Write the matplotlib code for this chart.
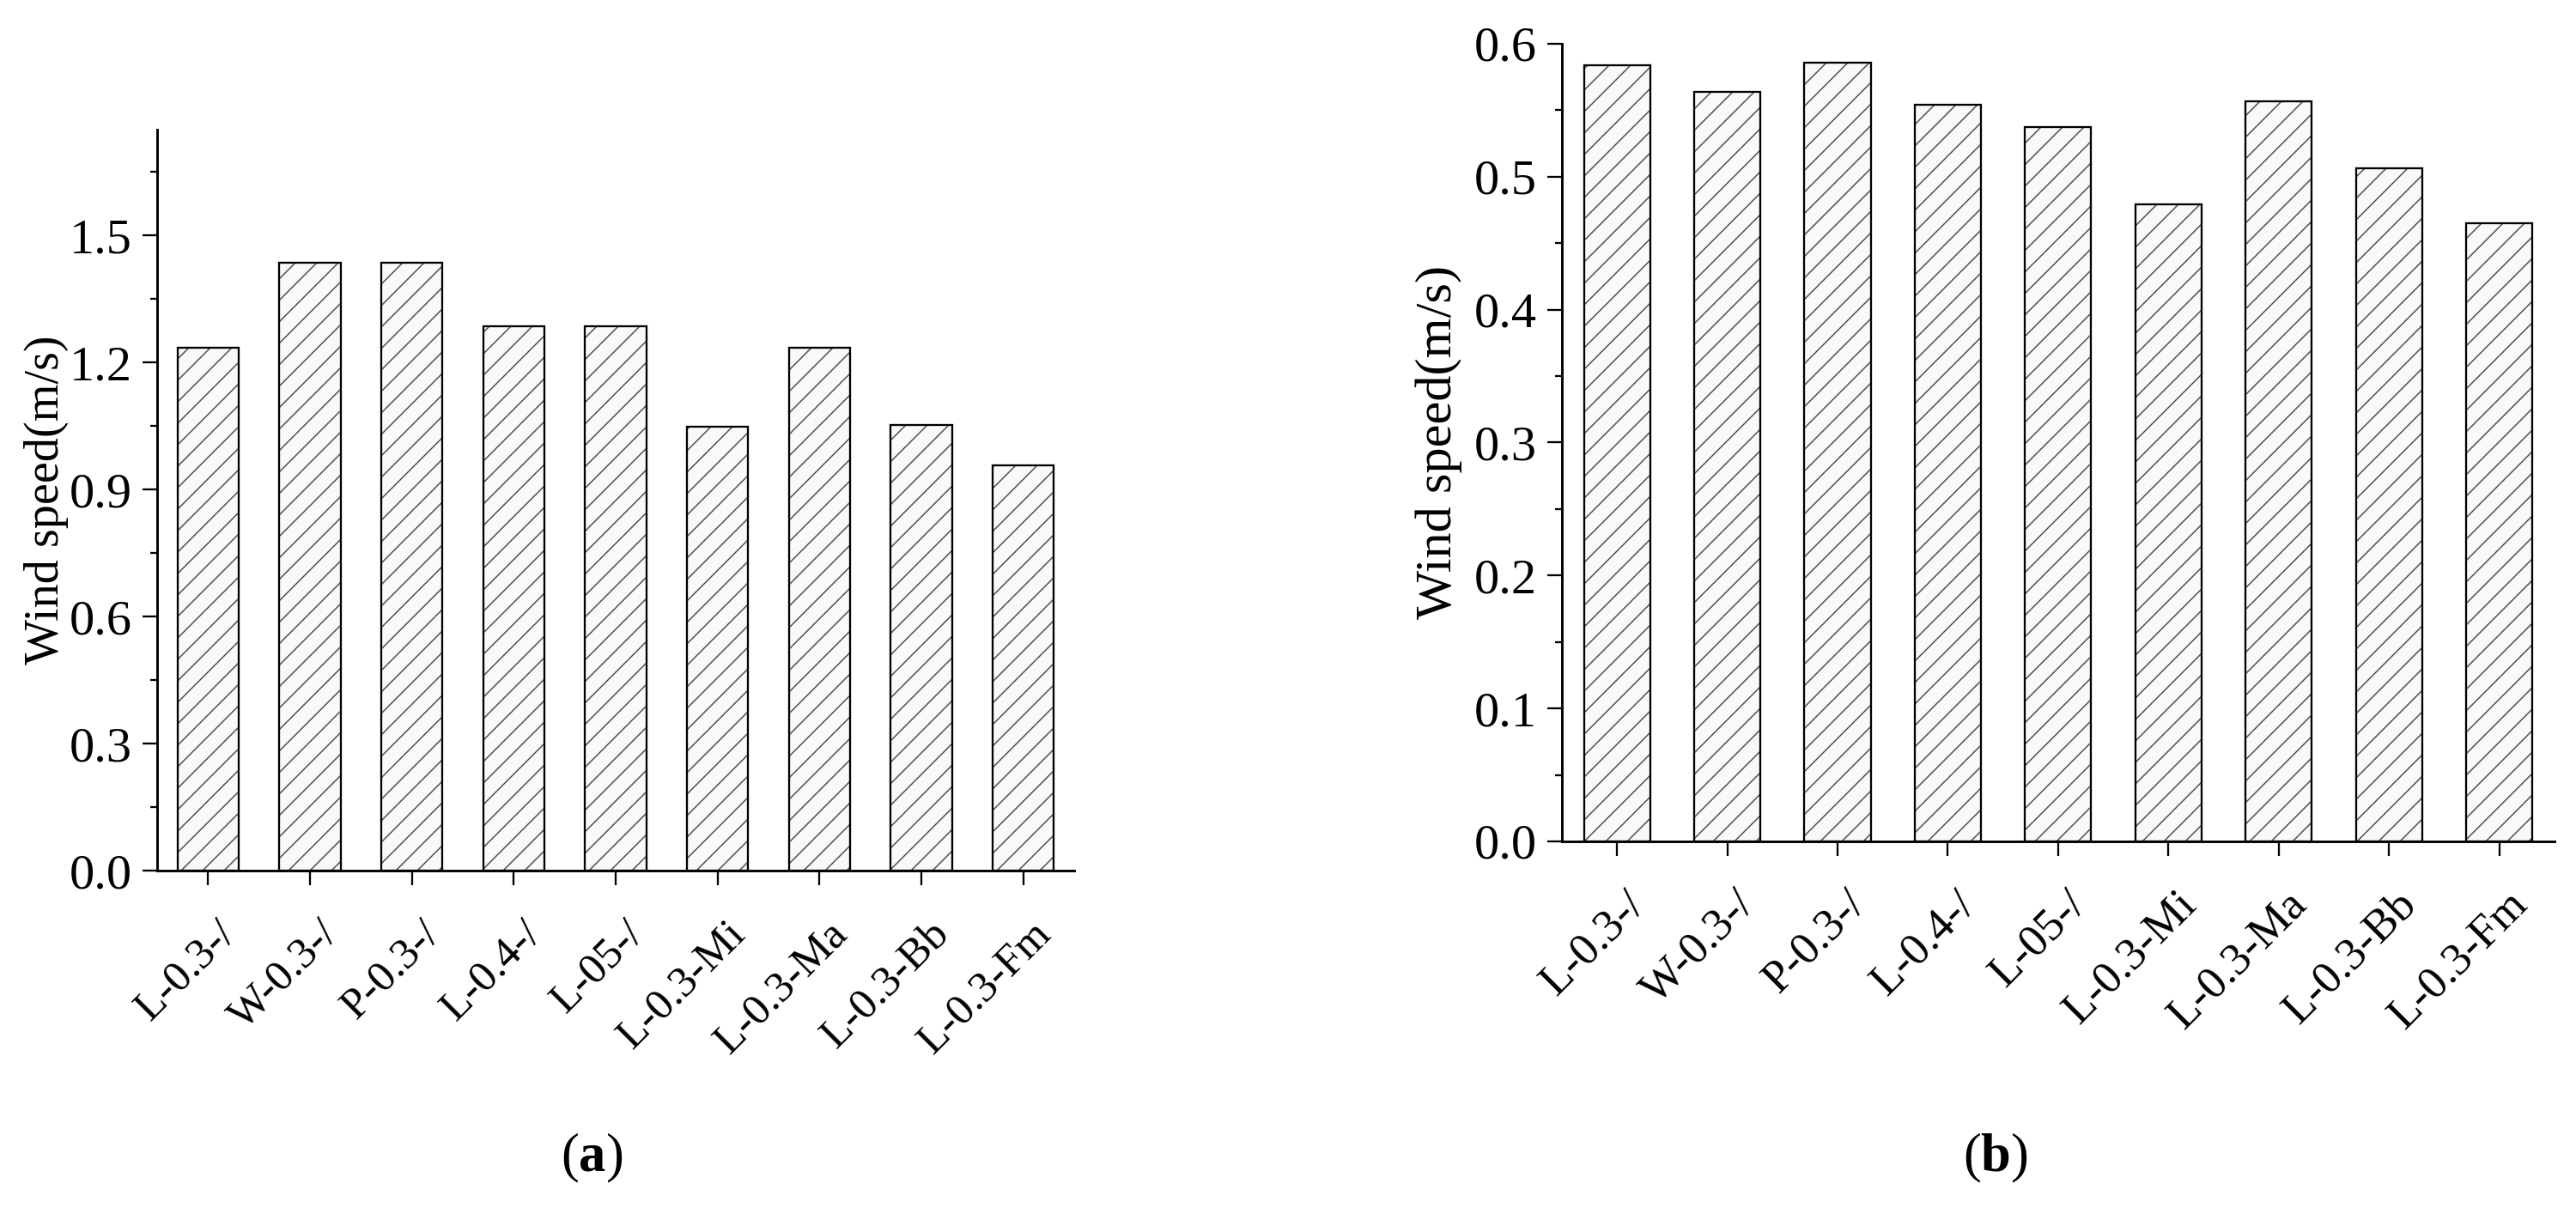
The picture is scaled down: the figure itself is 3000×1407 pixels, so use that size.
import matplotlib
matplotlib.use('Agg')
import matplotlib.pyplot as plt
import matplotlib.transforms as mtransforms
import numpy as np

# samples on the x axis (same for both panels)
samples = ['L-0.3-/', 'W-0.3-/', 'P-0.3-/', 'L-0.4-/', 'L-05-/',
           'L-0.3-Mi', 'L-0.3-Ma', 'L-0.3-Bb', 'L-0.3-Fm']

# wind speed (a) and panel (b)
speed_a = [1.235, 1.435, 1.435, 1.285, 1.285, 1.048, 1.235, 1.052, 0.958]
speed_b = [0.584, 0.564, 0.586, 0.554, 0.537, 0.479, 0.557, 0.506, 0.465]

ticks_a = [0.0, 0.3, 0.6, 0.9, 1.2, 1.5]
ticks_b = [0.0, 0.1, 0.2, 0.3, 0.4, 0.5, 0.6]

plt.rcParams['font.family'] = ['Liberation Serif', 'DejaVu Serif']
plt.rcParams['mathtext.fontset'] = 'custom'
plt.rcParams['mathtext.rm'] = 'Liberation Serif'
plt.rcParams['mathtext.bf'] = 'Liberation Serif:bold'
plt.rcParams['hatch.linewidth'] = 0.7

DPI = 150
fig = plt.figure(figsize=(20, 9.38), dpi=DPI)


def draw_panel(ax, values, yticks, ymax, minor_step, xfont, yfont, lfont):
    x = np.arange(len(samples))
    # hatch layer first, outline on top
    ax.bar(x, values, width=0.6, color='#f9f9f9', edgecolor='#4a4a4a',
           hatch='//', linewidth=0, zorder=2)
    ax.bar(x, values, width=0.6, fill=False, edgecolor='black',
           linewidth=1.1, zorder=3)
    ax.set_xlim(-0.5, len(samples) - 0.5)
    ax.set_ylim(0, ymax)
    ax.set_yticks(yticks)
    ax.set_yticklabels([f'{t:.1f}' for t in yticks])
    ax.set_yticks(np.arange(minor_step, ymax, minor_step * 2), minor=True)
    ax.set_xticks(x)
    ax.set_xticklabels([])
    ax.spines['top'].set_visible(False)
    ax.spines['right'].set_visible(False)
    ax.spines['left'].set_linewidth(1.4)
    ax.spines['bottom'].set_linewidth(1.4)
    ax.tick_params(axis='both', which='major', direction='out', length=8,
                   width=1.1)
    ax.tick_params(axis='y', which='major', labelsize=yfont, pad=6)
    ax.tick_params(axis='y', which='minor', direction='out', length=4, width=1.1)
    # rotated sample names: baseline end sits a bit right of and below each tick
    trans = (mtransforms.blended_transform_factory(ax.transData, ax.transAxes)
             + mtransforms.ScaledTranslation(34 / DPI, -75 / DPI, fig.dpi_scale_trans))
    for xi, name in zip(x, samples):
        ax.text(xi, 0, name, transform=trans, rotation=45, rotation_mode='anchor',
                ha='right', va='baseline', fontsize=xfont, clip_on=False)
    ax.set_ylabel('Wind speed(m/s)', fontsize=lfont)


ax1 = fig.add_axes([0.061, 0.2793, 0.356, 0.6134])
draw_panel(ax1, speed_a, ticks_a, 1.75, 0.15, 24.5, 28, 27)
ax1.yaxis.set_label_coords(-0.096, 0.5)

ax2 = fig.add_axes([0.6063, 0.3035, 0.3853, 0.6603])
draw_panel(ax2, speed_b, ticks_b, 0.6, 0.05, 25.5, 28, 29)
ax2.yaxis.set_label_coords(-0.100, 0.5)

fig.text(0.2297, 0.041, r'($\mathbf{a}$)', ha='center', va='center', fontsize=30)
fig.text(0.7747, 0.041, r'($\mathbf{b}$)', ha='center', va='center', fontsize=30)

fig.savefig('out.png', dpi=DPI, facecolor='white')
